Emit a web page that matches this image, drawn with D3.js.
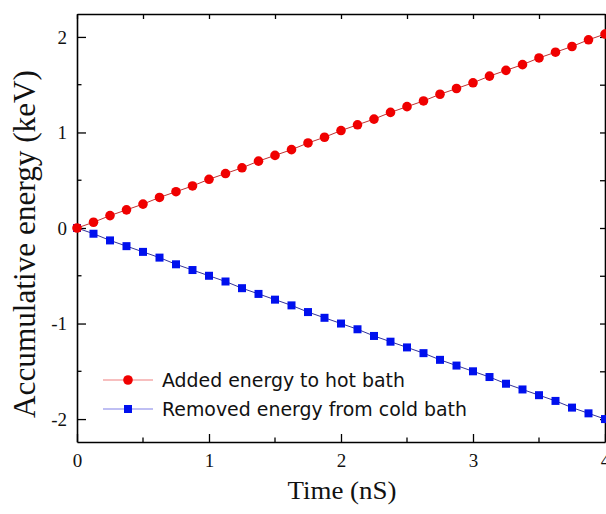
<!DOCTYPE html>
<html>
<head>
<meta charset="UTF-8">
<script src="https://d3js.org/d3.v7.min.js"></script>
<style>
  body { margin: 0; background: #fff; }
  svg { display: block; }
  .serif { font-family: "Liberation Serif", "Times New Roman", Times, serif; }
  .sans { font-family: "DejaVu Sans", Tahoma, sans-serif; }
</style>
</head>
<body>
<script>
// data (time in nS, energy in keV)
var time = [0, 0.125, 0.25, 0.375, 0.5, 0.625, 0.75, 0.875, 1, 1.125, 1.25, 1.375, 1.5, 1.625, 1.75, 1.875,
  2, 2.125, 2.25, 2.375, 2.5, 2.625, 2.75, 2.875, 3, 3.125, 3.25, 3.375, 3.5, 3.625, 3.75, 3.875, 4];
var added = [0, 0.06, 0.13, 0.19, 0.25, 0.32, 0.38, 0.44, 0.51, 0.57, 0.63, 0.70, 0.76, 0.82, 0.89, 0.95,
  1.02, 1.08, 1.14, 1.21, 1.27, 1.33, 1.40, 1.46, 1.52, 1.59, 1.65, 1.71, 1.78, 1.84, 1.90, 1.97, 2.03];
var removed = [0, -0.06, -0.13, -0.19, -0.25, -0.31, -0.38, -0.44, -0.50, -0.56, -0.63, -0.69, -0.75, -0.81, -0.88, -0.94,
  -1.00, -1.06, -1.13, -1.19, -1.25, -1.31, -1.38, -1.44, -1.50, -1.56, -1.63, -1.69, -1.75, -1.81, -1.88, -1.94, -2.00];
var xTicks = [0, 1, 2, 3, 4];
var yTicks = [-2, -1, 0, 1, 2];
var legendLabels = ["Added energy to hot bath", "Removed energy from cold bath"];

var W = 606, H = 514;
var m = {left: 77, right: 1, top: 14, bottom: 72};

var svg = d3.select("body").append("svg").attr("width", W).attr("height", H);

var x = d3.scaleLinear().domain([0, 4]).range([m.left, W - m.right]);
var y = d3.scaleLinear().domain([-2.24, 2.24]).range([H - m.bottom, m.top]);

var minorX = d3.range(0, 4.01, 0.5);
var minorY = d3.range(-2, 2.01, 0.5);

// bottom axis (ticks inward)
var bottom = svg.append("g").attr("transform", `translate(0,${y.range()[0]})`)
  .call(d3.axisBottom(x).tickValues(xTicks).tickSizeInner(-8).tickSizeOuter(0).tickPadding(12).tickFormat(d3.format("d")));
bottom.append("g").selectAll("line").data(minorX.filter(d => d % 1)).enter().append("line")
  .attr("x1", d => x(d)).attr("x2", d => x(d)).attr("y1", 0).attr("y2", -4.5).attr("stroke", "#000").attr("stroke-width", 1.3);

// left axis
var left = svg.append("g").attr("transform", `translate(${m.left},0)`)
  .call(d3.axisLeft(y).tickValues(yTicks).tickSizeInner(-9).tickSizeOuter(0).tickPadding(10).tickFormat(d3.format("d")));
left.append("g").selectAll("line").data(minorY.filter(d => d % 1)).enter().append("line")
  .attr("y1", d => y(d)).attr("y2", d => y(d)).attr("x1", 0).attr("x2", 4.5).attr("stroke", "#000").attr("stroke-width", 1.3);

// top and right mirror axes
svg.append("g").attr("transform", `translate(0,${m.top})`)
  .call(d3.axisTop(x).tickValues(minorX).tickSizeInner(-5).tickSizeOuter(0).tickFormat(""));
svg.append("g").attr("transform", `translate(${W - m.right},0)`)
  .call(d3.axisRight(y).tickValues(minorY).tickSizeInner(-5).tickSizeOuter(0).tickFormat(""));

svg.selectAll(".domain").attr("stroke", "#000").attr("stroke-width", 1.6);
svg.selectAll(".tick line").attr("stroke", "#000").attr("stroke-width", 1.3);
svg.selectAll("g").attr("font-family", null);
svg.selectAll(".tick text").attr("class", "serif")
  .attr("font-size", 19).attr("fill", "#111");
// hyphen-like minus as in the figure
left.selectAll(".tick text").text(d => d < 0 ? "-" + Math.abs(d) : d);

// series
var seriesA = time.map((t, i) => ({t: t, v: added[i]}));
var seriesB = time.map((t, i) => ({t: t, v: removed[i]}));
var line = d3.line().x(d => x(d.t)).y(d => y(d.v));

svg.append("path").datum(seriesB).attr("d", line).attr("fill", "none").attr("stroke", "#333399").attr("stroke-width", 1);
svg.selectAll(".sq").data(seriesB).enter().append("rect")
  .attr("x", d => x(d.t) - 4).attr("y", d => y(d.v) - 4).attr("width", 8).attr("height", 8)
  .attr("fill", "#0010ee");

svg.append("path").datum(seriesA).attr("d", line).attr("fill", "none").attr("stroke", "#c03030").attr("stroke-width", 1);
svg.selectAll(".dot").data(seriesA).enter().append("circle")
  .attr("cx", d => x(d.t)).attr("cy", d => y(d.v)).attr("r", 4.8)
  .attr("fill", "#f00000");

// legend
var leg = svg.append("g");
var rows = [{y: 380, color: "#f00000", line: "#f08080", shape: "circle", w: 243},
            {y: 409, color: "#0010ee", line: "#8080e8", shape: "square", w: 305}];
rows.forEach((r, i) => {
  leg.append("line").attr("x1", 103).attr("x2", 153).attr("y1", r.y).attr("y2", r.y)
    .attr("stroke", r.line).attr("stroke-width", 1.2);
  if (r.shape === "circle") {
    leg.append("circle").attr("cx", 128).attr("cy", r.y).attr("r", 4.8).attr("fill", r.color);
  } else {
    leg.append("rect").attr("x", 124).attr("y", r.y - 4).attr("width", 8).attr("height", 8).attr("fill", r.color);
  }
  leg.append("text").attr("class", "sans").attr("x", 162).attr("y", r.y + 7)
    .attr("font-size", 19)
    .attr("textLength", r.w).attr("lengthAdjust", "spacingAndGlyphs")
    .attr("fill", "#111").text(legendLabels[i]);
});

// axis titles
svg.append("text").attr("class", "serif").attr("x", 342).attr("y", 499).attr("text-anchor", "middle")
  .attr("font-size", 25)
  .attr("textLength", 109).attr("lengthAdjust", "spacingAndGlyphs")
  .attr("fill", "#111").text("Time (nS)");

svg.append("text").attr("class", "serif").attr("transform", "translate(35,244) rotate(-90)").attr("text-anchor", "middle")
  .attr("font-size", 31)
  .attr("textLength", 348).attr("lengthAdjust", "spacingAndGlyphs")
  .attr("fill", "#111").text("Accumulative energy (keV)");
</script>
</body>
</html>
